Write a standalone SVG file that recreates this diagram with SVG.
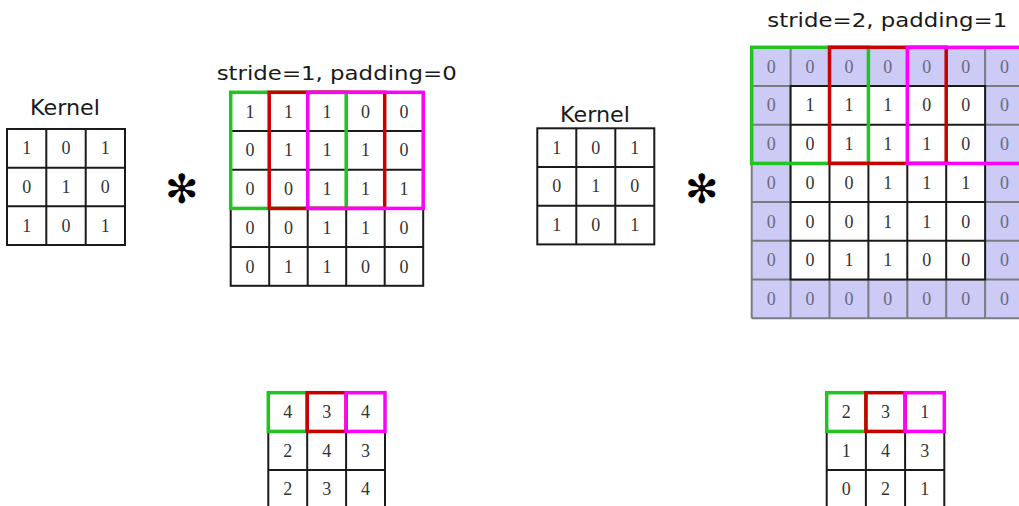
<svg xmlns="http://www.w3.org/2000/svg" width="1019" height="506" viewBox="0 0 1019 506">
<style>
.bg{fill:#ffffff}
.grid{fill:none;stroke:#1a1a1a;stroke-width:2}
.pgrid{fill:none;stroke:#7a7a80;stroke-width:2}
.pad{fill:#cbcbf5}
.cell{fill:#ffffff}
.n{font-family:"Liberation Serif","Times New Roman",serif;font-size:18px;fill:#333333;text-anchor:middle}
.np{font-family:"Liberation Serif","Times New Roman",serif;font-size:18px;fill:#6a6a80;text-anchor:middle}
.lbl{font-family:"DejaVu Sans",Verdana,sans-serif;fill:#1a1a1a}
.op{font-family:"DejaVu Sans",sans-serif;font-size:40px;fill:#000;text-anchor:middle;dominant-baseline:central}
.g{fill:none;stroke:#22c422;stroke-width:3.5}
.r{fill:none;stroke:#c80000;stroke-width:3.5}
.m{fill:none;stroke:#ff00ff;stroke-width:3.5}
</style>
<rect class="bg" x="0" y="0" width="1019" height="506"/>

<g id="kernel-left">
<text class="lbl" x="30" y="115" font-size="21" textLength="70" lengthAdjust="spacingAndGlyphs">Kernel</text>
<rect class="grid" x="7" y="129" width="118" height="116"/>
<path class="grid" d="M46.3 129V245M85.7 129V245M7 167.7H125M7 206.3H125"/>
<text class="n" x="26.7" y="154.3">1</text><text class="n" x="66" y="154.3">0</text><text class="n" x="105.3" y="154.3">1</text>
<text class="n" x="26.7" y="193">0</text><text class="n" x="66" y="193">1</text><text class="n" x="105.3" y="193">0</text>
<text class="n" x="26.7" y="231.7">1</text><text class="n" x="66" y="231.7">0</text><text class="n" x="105.3" y="231.7">1</text>
</g>

<g id="op-left"><text class="op" x="181.7" y="189">✻</text></g>

<g id="input-left">
<text class="lbl" x="216.7" y="80" font-size="20" textLength="240" lengthAdjust="spacingAndGlyphs">stride=1, padding=0</text>
<rect class="grid" x="230.7" y="92.3" width="192.5" height="193.5"/>
<path class="grid" d="M269.2 92.3V285.8M307.7 92.3V285.8M346.2 92.3V285.8M384.7 92.3V285.8M230.7 131H423.2M230.7 169.7H423.2M230.7 208.4H423.2M230.7 247.1H423.2"/>
<text class="n" x="250" y="117.7">1</text><text class="n" x="288.5" y="117.7">1</text><text class="n" x="327" y="117.7">1</text><text class="n" x="365.5" y="117.7">0</text><text class="n" x="404" y="117.7">0</text>
<text class="n" x="250" y="156.4">0</text><text class="n" x="288.5" y="156.4">1</text><text class="n" x="327" y="156.4">1</text><text class="n" x="365.5" y="156.4">1</text><text class="n" x="404" y="156.4">0</text>
<text class="n" x="250" y="195.1">0</text><text class="n" x="288.5" y="195.1">0</text><text class="n" x="327" y="195.1">1</text><text class="n" x="365.5" y="195.1">1</text><text class="n" x="404" y="195.1">1</text>
<text class="n" x="250" y="233.8">0</text><text class="n" x="288.5" y="233.8">0</text><text class="n" x="327" y="233.8">1</text><text class="n" x="365.5" y="233.8">1</text><text class="n" x="404" y="233.8">0</text>
<text class="n" x="250" y="272.5">0</text><text class="n" x="288.5" y="272.5">1</text><text class="n" x="327" y="272.5">1</text><text class="n" x="365.5" y="272.5">0</text><text class="n" x="404" y="272.5">0</text>
<rect class="g" x="230.7" y="92.3" width="115.5" height="116.1"/>
<rect class="r" x="269.2" y="92.3" width="115.5" height="116.1"/>
<rect class="m" x="307.7" y="92.3" width="115.5" height="116.1"/>
</g>

<g id="output-left">
<rect class="grid" x="268.3" y="392.7" width="116.7" height="116.1"/>
<path class="grid" d="M307.2 392.7V508.8M346.1 392.7V508.8M268.3 431.4H385M268.3 470.1H385"/>
<text class="n" x="287.75" y="418">4</text><text class="n" x="326.65" y="418">3</text><text class="n" x="365.55" y="418">4</text>
<text class="n" x="287.75" y="456.7">2</text><text class="n" x="326.65" y="456.7">4</text><text class="n" x="365.55" y="456.7">3</text>
<text class="n" x="287.75" y="495.4">2</text><text class="n" x="326.65" y="495.4">3</text><text class="n" x="365.55" y="495.4">4</text>
<rect class="g" x="268.3" y="392.7" width="38.9" height="38.7"/>
<rect class="r" x="307.2" y="392.7" width="38.9" height="38.7"/>
<rect class="m" x="346.1" y="392.7" width="38.9" height="38.7"/>
</g>

<g id="kernel-right">
<text class="lbl" x="560" y="121.7" font-size="21" textLength="70" lengthAdjust="spacingAndGlyphs">Kernel</text>
<rect class="grid" x="537.3" y="128.3" width="117" height="116.1"/>
<path class="grid" d="M576.3 128.3V244.4M615.3 128.3V244.4M537.3 167H654.3M537.3 205.7H654.3"/>
<text class="n" x="556.8" y="153.7">1</text><text class="n" x="595.8" y="153.7">0</text><text class="n" x="634.8" y="153.7">1</text>
<text class="n" x="556.8" y="192.4">0</text><text class="n" x="595.8" y="192.4">1</text><text class="n" x="634.8" y="192.4">0</text>
<text class="n" x="556.8" y="231.1">1</text><text class="n" x="595.8" y="231.1">0</text><text class="n" x="634.8" y="231.1">1</text>
</g>

<g id="op-right"><text class="op" x="701.7" y="189">✻</text></g>

<g id="input-right">
<text class="lbl" x="767.3" y="26.7" font-size="20" textLength="240" lengthAdjust="spacingAndGlyphs">stride=2, padding=1</text>
<rect class="pad" x="751.7" y="47.3" width="272.3" height="270.9"/>
<path class="pgrid" d="M751.7 47.3V318.2M790.6 47.3V318.2M829.5 47.3V318.2M868.4 47.3V318.2M907.3 47.3V318.2M946.2 47.3V318.2M985.1 47.3V318.2M1024 47.3V318.2M751.7 47.3H1024M751.7 86H1024M751.7 124.7H1024M751.7 163.4H1024M751.7 202.1H1024M751.7 240.8H1024M751.7 279.5H1024M751.7 318.2H1024"/>
<rect class="cell" x="790.6" y="86" width="194.5" height="193.5"/>
<rect class="grid" x="790.6" y="86" width="194.5" height="193.5"/>
<path class="grid" d="M829.5 86V279.5M868.4 86V279.5M907.3 86V279.5M946.2 86V279.5M790.6 124.7H985.1M790.6 163.4H985.1M790.6 202.1H985.1M790.6 240.8H985.1"/>
<text class="np" x="771.15" y="72.7">0</text><text class="np" x="810.05" y="72.7">0</text><text class="np" x="848.95" y="72.7">0</text><text class="np" x="887.85" y="72.7">0</text><text class="np" x="926.75" y="72.7">0</text><text class="np" x="965.65" y="72.7">0</text><text class="np" x="1004.55" y="72.7">0</text>
<text class="np" x="771.15" y="111.4">0</text><text class="n" x="810.05" y="111.4">1</text><text class="n" x="848.95" y="111.4">1</text><text class="n" x="887.85" y="111.4">1</text><text class="n" x="926.75" y="111.4">0</text><text class="n" x="965.65" y="111.4">0</text><text class="np" x="1004.55" y="111.4">0</text>
<text class="np" x="771.15" y="150.1">0</text><text class="n" x="810.05" y="150.1">0</text><text class="n" x="848.95" y="150.1">1</text><text class="n" x="887.85" y="150.1">1</text><text class="n" x="926.75" y="150.1">1</text><text class="n" x="965.65" y="150.1">0</text><text class="np" x="1004.55" y="150.1">0</text>
<text class="np" x="771.15" y="188.8">0</text><text class="n" x="810.05" y="188.8">0</text><text class="n" x="848.95" y="188.8">0</text><text class="n" x="887.85" y="188.8">1</text><text class="n" x="926.75" y="188.8">1</text><text class="n" x="965.65" y="188.8">1</text><text class="np" x="1004.55" y="188.8">0</text>
<text class="np" x="771.15" y="227.5">0</text><text class="n" x="810.05" y="227.5">0</text><text class="n" x="848.95" y="227.5">0</text><text class="n" x="887.85" y="227.5">1</text><text class="n" x="926.75" y="227.5">1</text><text class="n" x="965.65" y="227.5">0</text><text class="np" x="1004.55" y="227.5">0</text>
<text class="np" x="771.15" y="266.2">0</text><text class="n" x="810.05" y="266.2">0</text><text class="n" x="848.95" y="266.2">1</text><text class="n" x="887.85" y="266.2">1</text><text class="n" x="926.75" y="266.2">0</text><text class="n" x="965.65" y="266.2">0</text><text class="np" x="1004.55" y="266.2">0</text>
<text class="np" x="771.15" y="304.9">0</text><text class="np" x="810.05" y="304.9">0</text><text class="np" x="848.95" y="304.9">0</text><text class="np" x="887.85" y="304.9">0</text><text class="np" x="926.75" y="304.9">0</text><text class="np" x="965.65" y="304.9">0</text><text class="np" x="1004.55" y="304.9">0</text>
<rect class="g" x="751.7" y="47.3" width="116.7" height="116.1"/>
<rect class="r" x="829.5" y="47.3" width="116.7" height="116.1"/>
<rect class="m" x="907.3" y="47.3" width="116.7" height="116.1"/>
</g>

<g id="output-right">
<rect class="grid" x="826.7" y="392.7" width="117.6" height="116.1"/>
<path class="grid" d="M865.9 392.7V508.8M905.1 392.7V508.8M826.7 431.4H944.3M826.7 470.1H944.3"/>
<text class="n" x="846.3" y="418">2</text><text class="n" x="885.5" y="418">3</text><text class="n" x="924.7" y="418">1</text>
<text class="n" x="846.3" y="456.7">1</text><text class="n" x="885.5" y="456.7">4</text><text class="n" x="924.7" y="456.7">3</text>
<text class="n" x="846.3" y="495.4">0</text><text class="n" x="885.5" y="495.4">2</text><text class="n" x="924.7" y="495.4">1</text>
<rect class="g" x="826.7" y="392.7" width="39.2" height="38.7"/>
<rect class="r" x="865.9" y="392.7" width="39.2" height="38.7"/>
<rect class="m" x="905.1" y="392.7" width="39.2" height="38.7"/>
</g>

<g id="connectors"></g>
</svg>
